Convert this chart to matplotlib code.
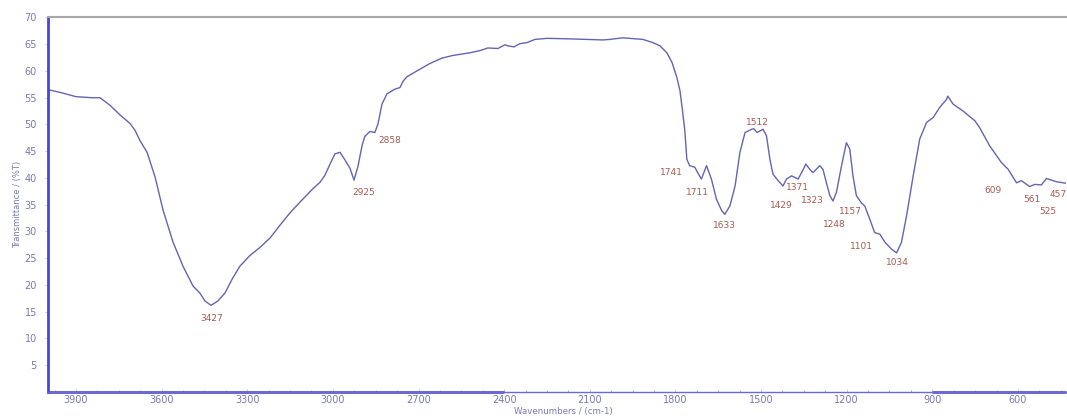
import matplotlib.pyplot as plt
import numpy as np

# spectre IR (nombre d'onde cm-1, transmittance %T)
wavenumber = [3998, 3956, 3900, 3844, 3816, 3781, 3746, 3711, 3693, 3676,
              3651, 3623, 3595, 3560, 3525, 3490, 3466, 3448, 3427, 3403,
              3378, 3354, 3326, 3291, 3256, 3220, 3185, 3150, 3115, 3070,
              3045, 3028, 3010, 2993, 2975, 2958, 2940, 2926, 2912, 2898,
              2888, 2870, 2853, 2842, 2828, 2811, 2783, 2765, 2754, 2741,
              2706, 2660, 2618, 2580, 2520, 2485, 2457, 2422, 2397, 2387,
              2366, 2345, 2320, 2292, 2250, 2170, 2110, 2054, 2030, 1984,
              1960, 1914, 1879, 1854, 1830, 1812, 1795, 1784, 1775, 1767,
              1760, 1750, 1732, 1722, 1709, 1691, 1674, 1656, 1638, 1627,
              1609, 1591, 1574, 1556, 1533, 1525, 1514, 1493, 1481, 1469,
              1458, 1440, 1423, 1411, 1393, 1370, 1358, 1343, 1329, 1318,
              1294, 1283, 1271, 1259, 1248, 1236, 1218, 1201, 1189, 1178,
              1166, 1148, 1137, 1119, 1102, 1084, 1066, 1043, 1025, 1008,
              990, 967, 944, 920, 897, 874, 850, 846, 827, 792,
              751, 734, 699, 658, 634, 605, 588, 559, 541, 518,
              500, 465, 430]
transmittance = [56.5, 56.0, 55.2, 55.0, 55.0, 53.6, 51.8, 50.2, 48.9, 47.0,
                 44.8, 40.2, 34.0, 28.0, 23.5, 19.8, 18.5, 17.0, 16.2, 17.0,
                 18.5, 21.0, 23.5, 25.5, 27.0, 28.8, 31.2, 33.5, 35.5, 38.0,
                 39.2, 40.5, 42.6, 44.5, 44.8, 43.4, 41.8, 39.6, 42.2, 46.0,
                 47.8, 48.7, 48.5, 50.1, 53.8, 55.7, 56.6, 56.9, 58.1, 58.9,
                 60.0, 61.4, 62.4, 62.9, 63.4, 63.8, 64.3, 64.2, 64.9, 64.7,
                 64.5, 65.1, 65.3, 65.9, 66.1, 66.0, 65.9, 65.8, 65.9, 66.2,
                 66.1, 65.9, 65.3, 64.7, 63.4, 61.6, 58.8, 56.3, 52.5, 48.8,
                 43.5, 42.3, 42.0, 41.0, 39.8, 42.3, 39.8, 36.0, 33.9, 33.2,
                 34.8, 38.5, 44.8, 48.5, 49.1, 49.2, 48.5, 49.1, 47.9, 43.5,
                 40.7, 39.5, 38.5, 39.8, 40.4, 39.8, 41.0, 42.6, 41.6, 41.0,
                 42.3, 41.6, 39.1, 36.7, 35.7, 37.3, 42.3, 46.6, 45.4, 40.4,
                 36.7, 35.3, 34.8, 32.3, 29.8, 29.5, 28.0, 26.7, 26.0, 28.0,
                 33.0, 40.4, 47.3, 50.4, 51.3, 53.2, 54.7, 55.3, 53.8, 52.5,
                 50.7, 49.4, 46.0, 42.9, 41.6, 39.1, 39.5, 38.4, 38.8, 38.7,
                 39.9, 39.3, 39.0]

# pics annotés
peaks = [3427, 2925, 2858, 1741, 1711, 1633, 1512, 1429, 1371, 1323,
         1248, 1157, 1101, 1034, 609, 561, 525, 457]
# décalage des étiquettes (pixels) par rapport à la courbe
offsets = [(1, -13), (9, -13), (16, -8), (-21, -6), (-3, -14), (1, -13),
           (0, 10), (0, -21), (0, -9), (1, -29), (1, -24), (-8, -12),
           (-13, -14), (3, -11), (-22, -10), (3, -13), (8, -27), (-1, -12)]

line_col = '#6464b4'
tick_col = '#7a7ab4'
label_col = '#a85a50'
spine_col = '#4646dc'

fig = plt.figure(figsize=(10.67, 4.16), dpi=100)
ax = fig.add_axes([0.045, 0.0577, 0.9545, 0.9003])

ax.plot(wavenumber, transmittance, color=line_col, lw=1.0)

wn = np.array(wavenumber)[::-1]
tr = np.array(transmittance)[::-1]
for p, (dx, dy) in zip(peaks, offsets):
    yv = np.interp(p, wn, tr)
    ax.annotate(str(p), xy=(p, yv), xytext=(dx, dy), textcoords='offset pixels',
                ha='center', va='center', fontsize=6.5, color=label_col)

ax.set_xlim(3998, 430)
ax.set_ylim(0, 70)
ax.set_xticks([3900, 3600, 3300, 3000, 2700, 2400, 2100, 1800, 1500, 1200, 900, 600])
ax.set_xticks(np.arange(3975, 430, -75), minor=True)
ax.set_yticks(np.arange(5, 71, 5))

ax.tick_params(axis='both', which='major', labelsize=7, labelcolor=tick_col,
               color='#c0c0d8', length=2, width=0.6)
ax.tick_params(axis='x', which='both', direction='in', pad=2.5)
ax.tick_params(axis='x', which='minor', length=1.5, color='#9a9ad0', width=0.6)
ax.tick_params(axis='y', pad=6)

ax.spines['left'].set_color(spine_col)
ax.spines['left'].set_linewidth(2.0)
ax.spines['bottom'].set_color('#6a6ad0')
ax.spines['bottom'].set_linewidth(1.0)
ax.spines['top'].set_color('#a8a8a8')
ax.spines['top'].set_linewidth(1.5)
ax.spines['right'].set_visible(False)

# segments plus épais de l'axe du bas
for a, b in [(3998, 2400), (900, 430)]:
    ax.plot([a, b], [0, 0], color='#5a5ad8', lw=2.0, clip_on=False,
            solid_capstyle='butt')

fig.text(563 / 1067, 1 - 411.5 / 416, 'Wavenumbers / (cm-1)', fontsize=6.2,
         color=tick_col, ha='center', va='center')
ax.set_ylabel('Transmittance / (%T)', fontsize=6, color=tick_col, labelpad=2)

fig.savefig('out.png', dpi=100)
